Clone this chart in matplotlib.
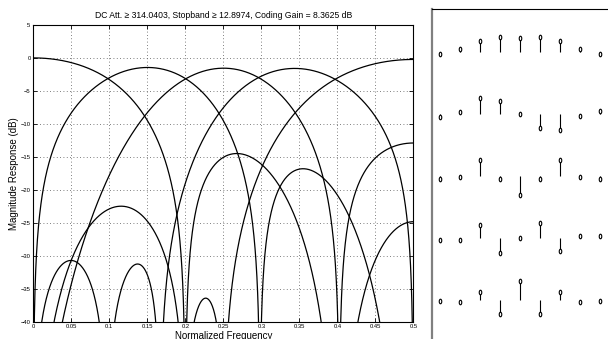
import numpy as np
import matplotlib.pyplot as plt
from matplotlib.markers import MarkerStyle
from matplotlib.transforms import Affine2D

plt.rcParams['font.family'] = ['Liberation Sans', 'DejaVu Sans']

title = "DC Att. \u2265 314.0403, Stopband \u2265 12.8974, Coding Gain = 8.3625 dB"

h1 = [-0.059, 0.086, 0.365, 0.51, 0.451, 0.51, 0.365, 0.086, -0.059]
h2 = [-0.09, 0.08, 0.52, 0.45, 0.0, -0.45, -0.52, -0.08, 0.09]
h3 = [-0.087, -0.033, 0.52, -0.091, -0.618, -0.091, 0.52, -0.033, -0.087]
h4 = [-0.08, -0.062, 0.43, -0.51, 0.0, 0.51, -0.43, 0.062, 0.08]
h5 = [-0.044, -0.08, 0.281, -0.481, 0.649, -0.481, 0.281, -0.08, -0.044]
filters = [h1, h2, h3, h4, h5]
n_channels = len(filters)

xticks = [0, 0.05, 0.1, 0.15, 0.2, 0.25, 0.3, 0.35, 0.4, 0.45, 0.5]
yticks = [-40, -35, -30, -25, -20, -15, -10, -5, 0, 5]

fig = plt.figure(figsize=(6.08, 3.39), dpi=100)

# --- magnitude responses
ax = fig.add_axes([0.0548, 0.051, 0.625, 0.875])
nfft = 4096
freq = np.fft.rfftfreq(nfft)
for h in filters:
	h = np.asarray(h) / np.linalg.norm(h)
	H = np.fft.rfft(h, nfft)
	mag = 20 * np.log10(np.abs(H) / np.sqrt(n_channels) + 1e-12)
	ax.plot(freq, mag, color='k', lw=0.9)

ax.set_xlim(0, 0.5)
ax.set_ylim(-40, 5)
ax.set_xticks(xticks)
ax.set_xticklabels([('%g' % t) for t in xticks])
ax.set_yticks(yticks)
ax.grid(True, color='#555555', linestyle=(0, (1, 3)), linewidth=0.6)
ax.tick_params(direction='in', length=3, width=0.6, labelsize=4.2,
	top=True, right=True, pad=2)
for s in ax.spines.values():
	s.set_linewidth(0.8)
ax.set_title(title, fontsize=6.2, pad=5)
ax.set_ylabel('Magnitude Response (dB)', fontsize=7, labelpad=1)
ax.set_xlabel('Normalized Frequency', fontsize=7, labelpad=1)

# --- impulse responses (stems), panel runs past the figure edge
ax2 = fig.add_axes([432 / 608, (339 - 349.3) / 339, 216 / 608, 340 / 339])
mk = MarkerStyle('o', transform=Affine2D().scale(0.55, 1.0))
for k, h in enumerate(filters):
	n = np.arange(len(h))
	base = -62 * k
	y = base + 30 * np.asarray(h)
	ax2.vlines(n, base, y, color='k', lw=0.8)
	ax2.plot(n, y, linestyle='none', marker=mk, ms=3.3, mfc='white',
		mec='k', mew=0.8)
ax2.set_xlim(-0.4, 10.4)
ax2.set_ylim(-297.3, 42.7)
ax2.set_xticks([])
ax2.set_yticks([])
ax2.spines['left'].set_color('#808080')
ax2.spines['left'].set_linewidth(1.6)
ax2.spines['top'].set_linewidth(0.8)

fig.savefig('out.png', dpi=100)
